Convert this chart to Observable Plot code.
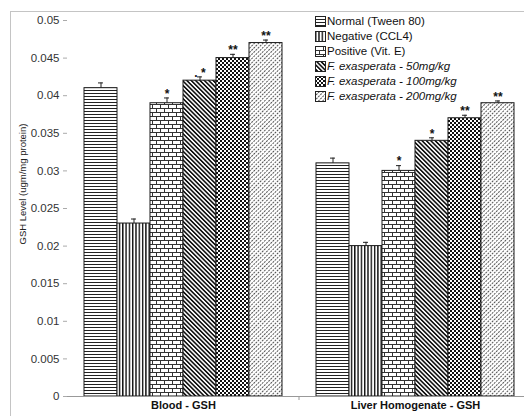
<!DOCTYPE html>
<html><head><meta charset="utf-8">
<script src="https://cdn.jsdelivr.net/npm/d3@7"></script>
<script src="https://cdn.jsdelivr.net/npm/@observablehq/plot@0.6"></script>
<style>
html,body{margin:0;padding:0;background:#fff;}
body{width:524px;height:416px;overflow:hidden;position:relative;font-family:"Liberation Sans",Arial,sans-serif;}
#frame{position:absolute;left:10px;top:11px;width:700px;height:600px;border:1px solid #c4c4c4;box-sizing:border-box;}
#chart{position:absolute;left:0;top:0;}
#legend{position:absolute;left:315px;top:14px;font-size:11.5px;line-height:15px;color:#111;}
#legend .row{display:flex;align-items:center;height:15px;white-space:nowrap;}
#legend svg{margin-right:1px;}
#legend .it{font-style:italic;}
</style>
</head><body>
<svg width="0" height="0" style="position:absolute">
<defs>
<pattern id="pHz" patternUnits="userSpaceOnUse" width="3" height="3">
 <rect width="3" height="3" fill="#fff"/><rect y="0" width="3" height="1" fill="#222"/>
</pattern>
<pattern id="pVt" patternUnits="userSpaceOnUse" width="3.3" height="3">
 <rect width="3.3" height="3" fill="#fff"/><rect x="0" width="1.4" height="3" fill="#111"/>
</pattern>
<pattern id="pBrick" patternUnits="userSpaceOnUse" width="8" height="8">
 <rect width="8" height="8" fill="#fff"/>
 <rect y="0" width="8" height="1" fill="#333"/><rect y="4" width="8" height="1" fill="#333"/>
 <rect x="0" y="0" width="1" height="4" fill="#333"/><rect x="4" y="4" width="1" height="4" fill="#333"/>
</pattern>
<pattern id="pDiag" patternUnits="userSpaceOnUse" width="3.1" height="3.1" patternTransform="rotate(-45)">
 <rect width="3.1" height="3.1" fill="#fff"/><rect x="0" width="1.6" height="3.1" fill="#111"/>
</pattern>
<pattern id="pCheck" patternUnits="userSpaceOnUse" width="4" height="4">
 <rect width="4" height="4" fill="#fff"/><rect width="2" height="2" fill="#111"/><rect x="2" y="2" width="2" height="2" fill="#111"/>
</pattern>
<pattern id="pLight" patternUnits="userSpaceOnUse" width="3" height="3" patternTransform="rotate(45)">
 <rect width="3" height="3" fill="#fff"/><line x1="0.5" y1="0" x2="0.5" y2="3" stroke="#555" stroke-width="1" stroke-dasharray="2 1"/>
</pattern>
</defs>
</svg>
<div id="frame"></div>
<div id="chart"></div>
<div id="legend"></div>
<script>
const groups = ["Blood - GSH", "Liver Homogenate - GSH"];
const treatments = ["Normal (Tween 80)", "Negative (CCL4)", "Positive (Vit. E)",
  "F. exasperata - 50mg/kg", "F. exasperata - 100mg/kg", "F. exasperata - 200mg/kg"];
const bloodValues = [0.041, 0.023, 0.039, 0.042, 0.045, 0.047];
const bloodErrors = [0.0007, 0.0006, 0.0007, 0.0005, 0.0005, 0.0004];
const liverValues = [0.031, 0.020, 0.030, 0.034, 0.037, 0.039];
const liverErrors = [0.0007, 0.0005, 0.0007, 0.0004, 0.0004, 0.0003];
const bloodStars = ["", "", "*", ". *", "**", "**"];
const liverStars = ["", "", "*", "*", "**", "**"];
const yTicks = [0, 0.005, 0.01, 0.015, 0.02, 0.025, 0.03, 0.035, 0.04, 0.045, 0.05];
const yLabel = "GSH Level (ugm/mg protein)";

const patternFills = ["url(#pHz)", "url(#pVt)", "url(#pBrick)", "url(#pDiag)", "url(#pCheck)", "url(#pLight)"];

const rows = [];
groups.forEach((g, gi) => treatments.forEach((t, i) => rows.push({
  group: g, treatment: t,
  value: gi === 0 ? bloodValues[i] : liverValues[i],
  err: gi === 0 ? bloodErrors[i] : liverErrors[i],
  star: gi === 0 ? bloodStars[i] : liverStars[i]
})));

const font = "'Liberation Sans', Arial, sans-serif";
const plot = Plot.plot({
  width: 524, height: 416,
  marginTop: 20, marginBottom: 20, marginLeft: 67, marginRight: 0,
  style: {background: "transparent", fontFamily: font, overflow: "visible"},
  fx: {domain: groups, padding: 0, range: [67, 531], label: null},
  x: {domain: treatments, paddingInner: 0, paddingOuter: 0.43, axis: null},
  y: {domain: [0, 0.05]},
  color: {domain: treatments, range: patternFills},
  marks: [
    Plot.barY(rows, {fx: "group", x: "treatment", y: "value", fill: "treatment", stroke: "#1a1a1a", strokeWidth: 1}),
    Plot.ruleX(rows, {fx: "group", x: "treatment", y1: "value", y2: d => d.value + d.err, stroke: "#222", strokeWidth: 1}),
    Plot.tickY(rows, {fx: "group", x: "treatment", y: d => d.value + d.err, stroke: "#222", strokeWidth: 1, insetLeft: 14, insetRight: 14}),
    Plot.text(rows, {fx: "group", x: "treatment", y: d => d.value + d.err, text: "star", lineAnchor: "middle", dy: -4, fontSize: 12, fontWeight: "bold", fill: "#111"}),
    Plot.ruleY([0], {stroke: "#999"}),
    Plot.axisY({ticks: yTicks, tickSize: 4, tickPadding: 4, stroke: "#aaa", color: "#333", fontSize: 11.5,
      tickFormat: d => String(+d.toFixed(3)), label: null}),
    Plot.text([yLabel], {fx: () => groups[0], frameAnchor: "left", rotate: -90, dx: -45, dy: 36, fontSize: 9.5, fill: "#222"}),
    Plot.axisFx({anchor: "bottom", tickSize: 0, tickPadding: 5, fontSize: 11, fontWeight: "bold", color: "#111", label: null})
  ]
});
document.getElementById("chart").appendChild(plot);

// group separator tick on the x axis, positioned with Plot's own fx scale
const fx = plot.scale("fx");
const yS = plot.scale("y");
const sep = fx.apply(groups[1]);
d3.select(plot).append("line")
  .attr("x1", sep).attr("x2", sep)
  .attr("y1", yS.apply(0)).attr("y2", yS.apply(0) + 4)
  .attr("stroke", "#999");

// legend
const leg = d3.select("#legend");
treatments.forEach((t, i) => {
  const r = leg.append("div").attr("class", "row");
  const s = r.append("svg").attr("width", 11).attr("height", 11);
  s.append("rect").attr("x", 0.5).attr("y", 0.5).attr("width", 10).attr("height", 10)
    .attr("fill", patternFills[i]).attr("stroke", "#222");
  r.append("span").attr("class", i >= 3 ? "it" : null).text(t);
});
</script>
</body></html>
